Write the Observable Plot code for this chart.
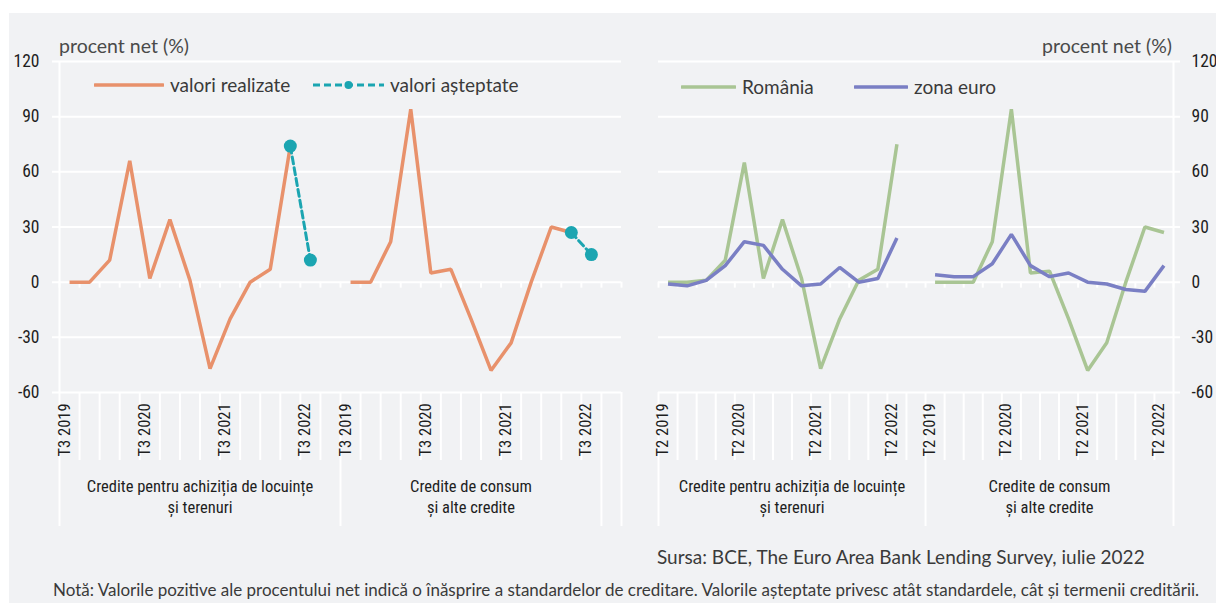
<!DOCTYPE html>
<html><head><meta charset="utf-8">
<script src="https://cdn.jsdelivr.net/npm/d3@7"></script>
<script src="https://cdn.jsdelivr.net/npm/@observablehq/plot@0.6"></script>
<style>
body{margin:0;background:#fff;}
#wrap{position:relative;width:1216px;height:603px;overflow:hidden;background:#fff;font-family:Lato,"Open Sans",sans-serif;color:#3a3a3a;}
#bg{position:absolute;left:9px;top:13px;right:0;bottom:0;background:#f1f2f4;}
.abs{position:absolute;white-space:nowrap;line-height:1;}
.chart{position:absolute;top:0;}
.leg{font-size:19px;color:#3a3a3a;}
.unit{font-size:19.5px;color:#4a4a4a;}
</style></head><body>
<div id="wrap">
  <div id="bg"></div>
  <div id="left" class="chart" style="left:0"></div>
  <div id="right" class="chart" style="left:600px"></div>
  <div class="abs unit" style="left:59px;top:36px">procent net (%)</div>
  <div class="abs unit" style="right:44px;top:36px">procent net (%)</div>
  <div id="legL"></div>
  <div id="legR"></div>
  <div class="abs" id="src" style="left:657px;top:547px;font-size:19px;color:#3a3a3a">Sursa: BCE, The Euro Area Bank Lending Survey, iulie 2022</div>
  <div class="abs" id="note" style="left:53px;top:581px;font-size:17px;color:#3a3a3a">Notă: Valorile pozitive ale procentului net indică o înăsprire a standardelor de creditare. Valorile așteptate privesc atât standardele, cât și termenii creditării.</div>
</div>
<script>
// ---------- data ----------
const yTicks = [-60, -30, 0, 30, 60, 90, 120];
const groupNames = ["Credite pentru achiziția de locuințe\nși terenuri", "Credite de consum\nși alte credite"];

// left panel (valori realizate / așteptate)
const leftQuartersG1 = ["T3 2019","T4 2019","T1 2020","T2 2020","T3 2020","T4 2020","T1 2021","T2 2021","T3 2021","T4 2021","T1 2022","T2 2022","T3 2022","T4 2022"];
const leftQuartersG2 = ["T3 2019","T4 2019","T1 2020","T2 2020","T3 2020","T4 2020","T1 2021","T2 2021","T3 2021","T4 2021","T1 2022","T2 2022","T3 2022"];
const leftTickLabels = ["T3 2019","T3 2020","T3 2021","T3 2022"];
const realizedQuarters = ["T3 2019","T4 2019","T1 2020","T2 2020","T3 2020","T4 2020","T1 2021","T2 2021","T3 2021","T4 2021","T1 2022","T2 2022"];
const housingRealized  = [0, 0, 12, 66, 2, 34, 1, -47, -20, 0, 7, 74];
const consumerRealized = [0, 0, 22, 94, 5, 7, -20, -48, -33, 0, 30, 27];
const expectedQuarters = ["T2 2022","T3 2022"];
const housingExpected  = [74, 12];
const consumerExpected = [27, 15];

// right panel (România / zona euro)
const rightQuartersG1 = ["T2 2019","T3 2019","T4 2019","T1 2020","T2 2020","T3 2020","T4 2020","T1 2021","T2 2021","T3 2021","T4 2021","T1 2022","T2 2022","T3 2022"];
const rightQuartersG2 = ["T2 2019","T3 2019","T4 2019","T1 2020","T2 2020","T3 2020","T4 2020","T1 2021","T2 2021","T3 2021","T4 2021","T1 2022","T2 2022"];
const rightTickLabels = ["T2 2019","T2 2020","T2 2021","T2 2022"];
const rightDataQuarters = ["T2 2019","T3 2019","T4 2019","T1 2020","T2 2020","T3 2020","T4 2020","T1 2021","T2 2021","T3 2021","T4 2021","T1 2022","T2 2022"];
const roHousing  = [0, 0, 1, 12, 65, 2, 34, 2, -47, -20, 1, 7, 75];
const euHousing  = [-1, -2, 1, 9, 22, 20, 7, -2, -1, 8, 0, 2, 24];
const roConsumer = [0, 0, 0, 22, 94, 5, 6, -20, -48, -33, 0, 30, 27];
const euConsumer = [4, 3, 3, 10, 26, 9, 3, 5, 0, -1, -4, -5, 9];

const C = {real: "#e8916b", exp: "#1ba5b1", ro: "#a9c594", eu: "#7a7fc4", grid: "#ffffff", text: "#1e1e1e"};
const NARROW = '"Liberation Sans Narrow","Roboto Condensed","DejaVu Sans Condensed",sans-serif';

// ---------- helpers ----------
function layout(groups, trailing) {
  const offsets = []; let n = 0;
  groups.forEach(g => { offsets.push(n); n += g.length; });
  const total = n + trailing;
  const long = [...offsets, n, total].filter((v, i, a) => a.indexOf(v) === i);
  return {offsets, total, long, ends: offsets.map((o, i) => o + groups[i].length)};
}
function series(values, quarters, groups, gi, L, name) {
  return values.map((v, i) => ({x: L.offsets[gi] + groups[gi].indexOf(quarters[i]) + 0.5, y: v, g: gi, s: name}));
}

function panel({groups, trailing, lines, dashed, tickLabels, side, width, marginLeft, marginRight}) {
  const L = layout(groups, trailing);
  const bounds = d3.range(L.total + 1);
  const shortB = bounds.filter(b => !L.long.includes(b));
  const labels = [];
  groups.forEach((g, gi) => tickLabels.forEach(t => { if (g.includes(t)) labels.push({x: L.offsets[gi] + g.indexOf(t) + 0.5, t}); }));
  const grp = groupNames.map((n, gi) => ({x: (L.offsets[gi] + L.ends[gi]) / 2, t: n}));
  const axisAt = side === "left" ? 0 : L.total;
  const marks = [
    Plot.ruleY(yTicks, {y: d => d, stroke: C.grid, strokeWidth: 2, insetLeft: side === "left" ? -7 : 0, insetRight: side === "right" ? -7 : 0}),
    Plot.ruleX([axisAt], {x: d => d, stroke: C.grid, strokeWidth: 2}),
    Plot.ruleX(bounds, {x: d => d, y1: 0, y2: 0, insetBottom: -6, stroke: C.grid, strokeWidth: 2}),
    Plot.ruleX(shortB, {x: d => d, y1: -60, y2: -60, insetBottom: -68, stroke: C.grid, strokeWidth: 2}),
    Plot.ruleX(L.long, {x: d => d, y1: -60, y2: -60, insetBottom: -134, stroke: C.grid, strokeWidth: 2}),
    Plot.text(yTicks, {y: d => d, text: d => String(d), frameAnchor: side, textAnchor: side === "left" ? "end" : "start",
      dx: side === "left" ? -20 : 18, fontSize: 17.5, fontFamily: NARROW, fill: C.text}),
    Plot.text(labels, {x: "x", text: "t", frameAnchor: "bottom", rotate: -90, textAnchor: "start", dy: 64,
      fontSize: 16.5, fontFamily: NARROW, fill: C.text}),
    Plot.text(grp, {x: "x", text: "t", frameAnchor: "bottom", dy: 84, lineAnchor: "top", lineHeight: 1.3,
      fontSize: 16.5, fontFamily: NARROW, fill: C.text})
  ];
  lines.forEach(l => marks.push(Plot.line(l.data, {x: "x", y: "y", z: "g", stroke: l.color, strokeWidth: 3.5, strokeLinejoin: "miter", strokeLinecap: "butt"})));
  if (dashed) {
    marks.push(Plot.line(dashed.data, {x: "x", y: "y", z: "g", stroke: dashed.color, strokeWidth: 3, strokeDasharray: "7,4"}));
    marks.push(Plot.dot(dashed.data, {x: "x", y: "y", r: 6.5, fill: dashed.color, stroke: "none"}));
  }
  return Plot.plot({
    width, height: 540, marginLeft, marginRight, marginTop: 61, marginBottom: 148,
    x: {domain: [0, L.total], axis: null},
    y: {domain: [-60, 120], axis: null},
    style: {background: "transparent", overflow: "visible"},
    marks
  });
}

// left
const LG = [leftQuartersG1, leftQuartersG2];
const LL = layout(LG, 1);
const realized = [...series(housingRealized, realizedQuarters, LG, 0, LL, "r"), ...series(consumerRealized, realizedQuarters, LG, 1, LL, "r")];
const expected = [...series(housingExpected, expectedQuarters, LG, 0, LL, "e"), ...series(consumerExpected, expectedQuarters, LG, 1, LL, "e")];
document.getElementById("left").append(panel({
  groups: LG, trailing: 1, side: "left", width: 640, marginLeft: 59, marginRight: 19,
  lines: [{data: realized, color: C.real}], dashed: {data: expected, color: C.exp}, tickLabels: leftTickLabels
}));

// right
const RG = [rightQuartersG1, rightQuartersG2];
const RL = layout(RG, 0);
const ro = [...series(roHousing, rightDataQuarters, RG, 0, RL, "ro"), ...series(roConsumer, rightDataQuarters, RG, 1, RL, "ro")];
const eu = [...series(euHousing, rightDataQuarters, RG, 0, RL, "eu"), ...series(euConsumer, rightDataQuarters, RG, 1, RL, "eu")];
document.getElementById("right").append(panel({
  groups: RG, trailing: 0, side: "right", width: 616, marginLeft: 58, marginRight: 43,
  lines: [{data: ro, color: C.ro}, {data: eu, color: C.eu}], dashed: null, tickLabels: rightTickLabels
}));

// legends
function legendItem(host, x, y, w, color, label, dashedDot) {
  const sw = document.createElementNS("http://www.w3.org/2000/svg", "svg");
  sw.setAttribute("width", w); sw.setAttribute("height", 14);
  sw.style.position = "absolute"; sw.style.left = x + "px"; sw.style.top = (y - 7) + "px";
  sw.innerHTML = dashedDot
    ? `<line x1="0" y1="7" x2="${w}" y2="7" stroke="${color}" stroke-width="3" stroke-dasharray="7,4"/><circle cx="${w/2}" cy="7" r="4" fill="${color}"/>`
    : `<line x1="1" y1="7" x2="${w-1}" y2="7" stroke="${color}" stroke-width="3.5" stroke-linecap="round"/>`;
  host.append(sw);
  const t = document.createElement("div");
  t.className = "abs leg"; t.textContent = label;
  t.style.left = (x + w + 6) + "px"; t.style.top = (y - 10) + "px";
  host.append(t);
}
const legL = document.getElementById("legL"), legR = document.getElementById("legR");
legendItem(legL, 94, 85, 70, C.real, "valori realizate", false);
legendItem(legL, 313, 85, 71, C.exp, "valori așteptate", true);
legendItem(legR, 681, 87, 55, C.ro, "România", false);
legendItem(legR, 854, 87, 54, C.eu, "zona euro", false);
</script>
</body></html>
